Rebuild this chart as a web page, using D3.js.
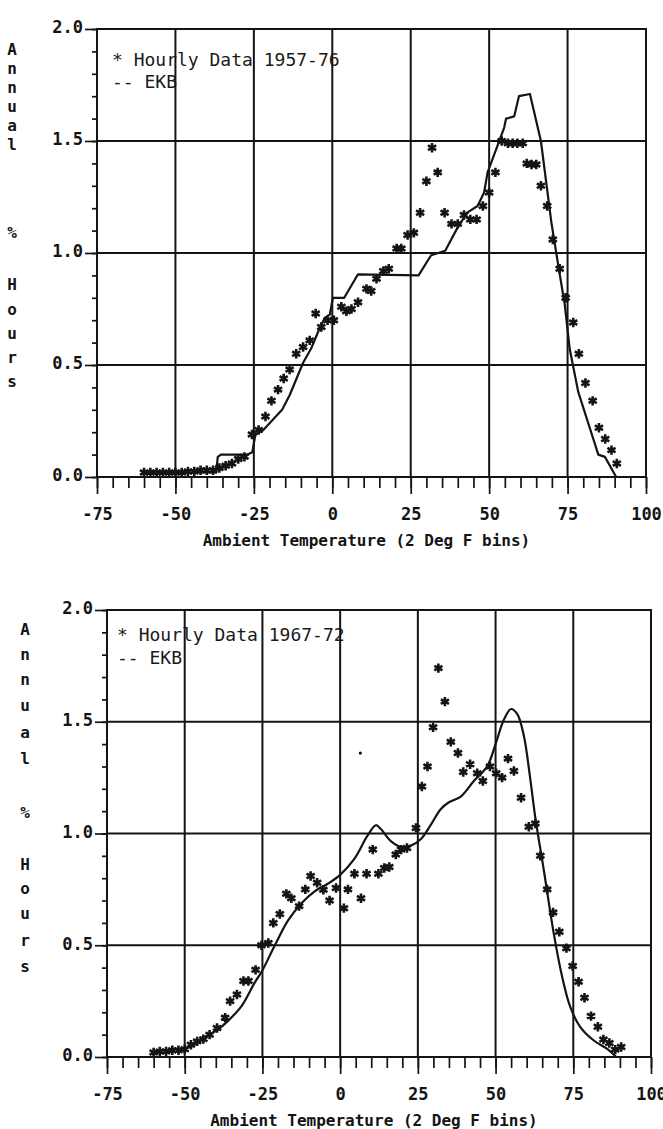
<!DOCTYPE html>
<html>
<head>
<meta charset="utf-8">
<script src="https://cdn.jsdelivr.net/npm/d3@7"></script>
<style>
  html, body { margin: 0; padding: 0; background: #fff; }
  svg { display: block; }
</style>
</head>
<body>
<script>
// Annual % of hours per 2 deg F ambient temperature bin: hourly records vs EKB model.

// Shared axis ticks
const tempMajorTicks = [-75, -50, -25, 0, 25, 50, 75, 100];
const tempMinorTicks = d3.range(-75, 101, 5);
const pctMajorTicks = [0, 0.5, 1.0, 1.5, 2.0];
const pctMinorTicks = d3.range(0, 2.001, 0.1);
const yTitleChars = ["A", "n", "n", "u", "a", "l", "%", "H", "o", "u", "r", "s"];
const xTitle = "Ambient Temperature (2 Deg F bins)";

// Panel 1: hourly data 1957-76 (temperature F, annual % hours)
const hourly5776 = [
  [-60, 0.02], [-58, 0.02], [-56, 0.02], [-54, 0.02], [-52, 0.02], [-50, 0.02],
  [-48, 0.02], [-46, 0.025], [-44, 0.025], [-42, 0.03], [-40, 0.03], [-38, 0.03],
  [-36, 0.04], [-34, 0.05], [-32, 0.06], [-30, 0.08], [-28, 0.09],
  [-25.6, 0.19], [-23.5, 0.21], [-21.3, 0.27], [-19.4, 0.34], [-17.3, 0.39],
  [-15.5, 0.44], [-13.6, 0.48], [-11.5, 0.55], [-9.3, 0.58], [-7.2, 0.61],
  [-5.3, 0.73], [-3.5, 0.67], [-1.5, 0.70], [0.5, 0.70], [2.9, 0.76], [4.5, 0.74],
  [6.1, 0.75], [8.2, 0.78], [10.9, 0.84], [12.4, 0.83], [14.1, 0.885], [16.3, 0.92],
  [18, 0.93], [20.5, 1.02], [22, 1.02], [24, 1.08], [26, 1.09], [28, 1.18],
  [30, 1.32], [31.8, 1.47], [33.6, 1.36], [35.8, 1.18], [38, 1.13], [40, 1.13],
  [42, 1.17], [44, 1.15], [46, 1.15], [48, 1.21], [50, 1.27], [52, 1.36],
  [54, 1.50], [56, 1.49], [57.5, 1.49], [59, 1.49], [60.7, 1.49], [62, 1.40],
  [63.5, 1.395], [65, 1.395], [66.5, 1.30], [68.5, 1.21], [70.3, 1.06],
  [72.5, 0.93], [74.4, 0.80], [76.8, 0.69], [78.6, 0.55], [80.7, 0.42],
  [83, 0.34], [85, 0.22], [87, 0.17], [89, 0.12], [90.7, 0.06]
];

// Panel 1: EKB model curve
const ekb5776 = [
  [-60, 0.02], [-37, 0.02], [-36.5, 0.09], [-35.5, 0.10], [-27, 0.10], [-25.5, 0.11],
  [-24.5, 0.19], [-22, 0.21], [-18, 0.27], [-16, 0.30], [-13.6, 0.365], [-9.3, 0.51],
  [-6.7, 0.575], [-4, 0.665], [-2.4, 0.71], [-0.8, 0.725], [0.2, 0.80], [3.8, 0.80],
  [8.2, 0.905], [27.5, 0.90], [31.5, 0.99], [36, 1.01], [39.8, 1.11], [43, 1.18],
  [46.3, 1.21], [48.4, 1.27], [49.5, 1.36], [52.7, 1.48], [54.8, 1.56], [55.4, 1.60],
  [58, 1.61], [59.5, 1.70], [63, 1.71], [66.5, 1.50], [69.8, 1.14], [72.2, 0.93],
  [74.1, 0.77], [75.7, 0.57], [78.4, 0.38], [81.6, 0.24], [84.8, 0.10], [86.9, 0.09],
  [90.5, 0.0]
];

// Panel 2: hourly data 1967-72
const hourly6772 = [
  [-60, 0.02], [-58, 0.025], [-56, 0.025], [-54, 0.03], [-52, 0.03], [-50, 0.035],
  [-48, 0.055], [-46, 0.07], [-44, 0.08], [-42, 0.10], [-39.6, 0.13], [-37, 0.176],
  [-35.4, 0.25], [-33.2, 0.28], [-31.1, 0.34], [-29.5, 0.34], [-27.2, 0.39],
  [-25.3, 0.50], [-23.1, 0.51], [-21.5, 0.60], [-19.4, 0.64], [-17.3, 0.73],
  [-15.7, 0.71], [-13.2, 0.675], [-11.2, 0.75], [-9.5, 0.81], [-7.4, 0.78],
  [-5.4, 0.748], [-3.4, 0.70], [-1.3, 0.756], [1.2, 0.666], [2.5, 0.75], [4.6, 0.82],
  [6.7, 0.71], [8.5, 0.82], [10.5, 0.928], [12.3, 0.82], [14.2, 0.846], [15.8, 0.85],
  [17.9, 0.906], [19.6, 0.928], [21.5, 0.935], [24.4, 1.025], [26.3, 1.21],
  [28.1, 1.30], [29.9, 1.475], [31.6, 1.74], [33.7, 1.59], [35.6, 1.41], [37.9, 1.36],
  [39.6, 1.275], [41.8, 1.31], [44.1, 1.27], [45.9, 1.235], [48.2, 1.30], [50.2, 1.27],
  [52.1, 1.25], [54, 1.335], [55.9, 1.28], [58.2, 1.16], [60.7, 1.03], [62.8, 1.045],
  [64.4, 0.90], [66.6, 0.75], [68.5, 0.647], [70.5, 0.56], [72.8, 0.487], [74.8, 0.407],
  [76.7, 0.337], [78.6, 0.265], [80.7, 0.183], [82.9, 0.135], [84.7, 0.078],
  [86.6, 0.063], [88.5, 0.033], [90.4, 0.045]
];

// Panel 2: isolated plotted dot
const stray6772 = [[6.5, 1.36]];

// Panel 2: EKB model curve
const ekb6772 = [
  [-52, 0.03], [-50, 0.037], [-47, 0.055], [-44.4, 0.082], [-39.6, 0.12], [-35.9, 0.164],
  [-31.6, 0.23], [-27.4, 0.335], [-25.3, 0.38], [-21, 0.50], [-16.8, 0.61],
  [-12.5, 0.687], [-8.3, 0.74], [-4, 0.775], [0, 0.815], [4.5, 0.885], [8.8, 0.99],
  [11.5, 1.037], [13.1, 1.02], [16.3, 0.966], [19.6, 0.94], [22.8, 0.946], [26, 0.975],
  [29.2, 1.04], [32.4, 1.11], [35, 1.14], [38.8, 1.165], [43, 1.235], [47.3, 1.30],
  [50, 1.40], [52.7, 1.51], [55, 1.557], [57, 1.534], [59.1, 1.437], [61.2, 1.24],
  [62.8, 1.07], [65.5, 0.838], [68.7, 0.554], [71.4, 0.36], [74, 0.225], [77.2, 0.135],
  [81.5, 0.075], [85.8, 0.037], [88.8, 0.0]
];

const W = 663, H = 1129;
const INK = "#141414";
const monoFont = "'DejaVu Sans Mono', 'Liberation Mono', monospace";

const svg = d3.select("body").append("svg")
  .attr("width", W).attr("height", H)
  .attr("viewBox", `0 0 ${W} ${H}`);
svg.append("rect").attr("width", W).attr("height", H).attr("fill", "#fff");

const panels = [
  {
    box: { left: 97, right: 646, top: 29, bottom: 477 },
    yTitleX: 12, yTitleY: [50, 69, 88, 107, 126, 145, 233, 285, 310, 334, 358, 382],
    legendX: 112, legendY: [66, 88],
    legend: ["* Hourly Data 1957-76", "-- EKB"],
    hourly: hourly5776, ekb: ekb5776, extra: [], curve: d3.curveLinear
  },
  {
    box: { left: 107, right: 651, top: 610, bottom: 1057 },
    yTitleX: 25, yTitleY: [630, 655, 680, 706, 733, 759, 813, 865, 889, 914, 941, 967],
    legendX: 117, legendY: [641, 664],
    legend: ["* Hourly Data 1967-72", "-- EKB"],
    hourly: hourly6772, ekb: ekb6772, extra: stray6772, curve: d3.curveCatmullRom.alpha(0.5)
  }
];

const starType = d3.symbolAsterisk || d3.symbolCross;

panels.forEach(p => {
  const b = p.box;
  const x = d3.scaleLinear().domain([-75, 100]).range([b.left, b.right]);
  const y = d3.scaleLinear().domain([0, 2]).range([b.bottom, b.top]);
  const g = svg.append("g");

  // Grid at major ticks
  g.append("g").selectAll("line").data(tempMajorTicks).join("line")
    .attr("x1", d => x(d)).attr("x2", d => x(d))
    .attr("y1", b.top).attr("y2", b.bottom)
    .attr("stroke", INK).attr("stroke-width", 2);
  g.append("g").selectAll("line").data(pctMajorTicks).join("line")
    .attr("x1", b.left).attr("x2", b.right)
    .attr("y1", d => y(d)).attr("y2", d => y(d))
    .attr("stroke", INK).attr("stroke-width", 2);

  // Bottom axis: minor and major ticks, labels
  const xMinor = g.append("g").attr("transform", `translate(0,${b.bottom})`)
    .call(d3.axisBottom(x).tickValues(tempMinorTicks).tickSize(11).tickFormat(""));
  const xMajor = g.append("g").attr("transform", `translate(0,${b.bottom})`)
    .call(d3.axisBottom(x).tickValues(tempMajorTicks).tickSize(17).tickPadding(14)
      .tickFormat(d3.format("d")));
  [xMinor, xMajor].forEach(a => {
    a.select(".domain").remove();
    a.selectAll("line").attr("stroke", INK).attr("stroke-width", 1.7);
  });
  xMajor.selectAll("text")
    .attr("fill", INK).attr("font-family", monoFont)
    .attr("font-size", 17).attr("font-weight", "bold")
    .text(d => String(d));

  // Left axis: minor and major ticks, labels
  const yMinor = g.append("g").attr("transform", `translate(${b.left},0)`)
    .call(d3.axisLeft(y).tickValues(pctMinorTicks).tickSize(5).tickFormat(""));
  const yMajor = g.append("g").attr("transform", `translate(${b.left},0)`)
    .call(d3.axisLeft(y).tickValues(pctMajorTicks).tickSize(12).tickPadding(2)
      .tickFormat(d3.format(".1f")));
  [yMinor, yMajor].forEach(a => {
    a.select(".domain").remove();
    a.selectAll("line").attr("stroke", INK).attr("stroke-width", 1.7);
  });
  yMajor.selectAll("text")
    .attr("fill", INK).attr("font-family", monoFont)
    .attr("font-size", 17).attr("font-weight", "bold")
    .attr("dy", "0.22em");

  // Frame
  g.append("rect")
    .attr("x", b.left).attr("y", b.top)
    .attr("width", b.right - b.left).attr("height", b.bottom - b.top)
    .attr("fill", "none").attr("stroke", INK).attr("stroke-width", 2);

  // Vertical y-axis title, one character per line
  g.append("g").selectAll("text").data(yTitleChars).join("text")
    .attr("x", p.yTitleX).attr("y", (d, i) => p.yTitleY[i])
    .attr("text-anchor", "middle").attr("dominant-baseline", "middle")
    .attr("font-family", monoFont).attr("font-size", 16).attr("font-weight", "bold")
    .attr("fill", INK).text(d => d);

  // X-axis title
  g.append("text")
    .attr("x", (b.left + b.right) / 2 - 5).attr("y", b.bottom + 69)
    .attr("text-anchor", "middle")
    .attr("font-family", monoFont).attr("font-size", 16).attr("font-weight", "bold")
    .attr("fill", INK).text(xTitle);

  // Legend
  g.append("g").selectAll("text").data(p.legend).join("text")
    .attr("x", p.legendX).attr("y", (d, i) => p.legendY[i])
    .attr("font-family", monoFont).attr("font-size", 18)
    .attr("fill", "#1a1a1a")
    .style("white-space", "pre").text(d => d);

  // EKB model line
  g.append("path").datum(p.ekb)
    .attr("fill", "none").attr("stroke", INK).attr("stroke-width", 2.2)
    .attr("stroke-linejoin", "round")
    .attr("d", d3.line().x(d => x(d[0])).y(d => y(d[1])).curve(p.curve));

  // Hourly data stars
  const star = d3.symbol().type(starType).size(62);
  g.append("g").selectAll("path").data(p.hourly).join("path")
    .attr("transform", d => `translate(${x(d[0])},${y(d[1])})`)
    .attr("d", star)
    .attr("fill", "none").attr("stroke", INK).attr("stroke-width", 2.6);

  g.append("g").selectAll("circle").data(p.extra).join("circle")
    .attr("cx", d => x(d[0])).attr("cy", d => y(d[1])).attr("r", 1.6)
    .attr("fill", INK);
});
</script>
</body>
</html>
